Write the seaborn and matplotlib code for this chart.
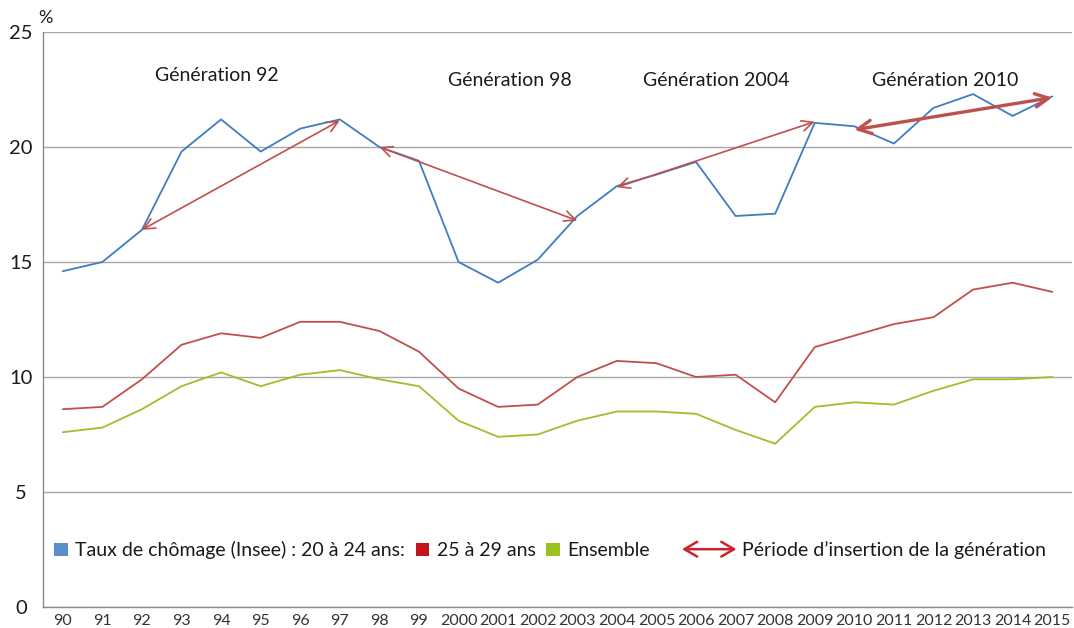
import numpy as np
import pandas as pd
import matplotlib
matplotlib.use("Agg")
import matplotlib.pyplot as plt
import seaborn as sns
from matplotlib.patches import Patch, FancyArrowPatch
from matplotlib.legend_handler import HandlerBase

# ---------------- data ----------------
years = ["90", "91", "92", "93", "94", "95", "96", "97", "98", "99",
         "2000", "2001", "2002", "2003", "2004", "2005", "2006", "2007",
         "2008", "2009", "2010", "2011", "2012", "2013", "2014", "2015"]
chomage_20_24 = [14.6, 15.0, 16.4, 19.8, 21.2, 19.8, 20.8, 21.2, 20.0, 19.4,
                 15.0, 14.1, 15.1, 17.0, 18.3, 18.8, 19.35, 17.0, 17.1, 21.05,
                 20.9, 20.15, 21.7, 22.3, 21.35, 22.2]
chomage_25_29 = [8.6, 8.7, 9.9, 11.4, 11.9, 11.7, 12.4, 12.4, 12.0, 11.1,
                 9.5, 8.7, 8.8, 10.0, 10.7, 10.6, 10.0, 10.1, 8.9, 11.3,
                 11.8, 12.3, 12.6, 13.8, 14.1, 13.7]
ensemble = [7.6, 7.8, 8.6, 9.6, 10.2, 9.6, 10.1, 10.3, 9.9, 9.6,
            8.1, 7.4, 7.5, 8.1, 8.5, 8.5, 8.4, 7.7, 7.1, 8.7,
            8.9, 8.8, 9.4, 9.9, 9.9, 10.0]

series_names = ["Taux de chômage (Insee) : 20 à 24 ans:", "25 à 29 ans", "Ensemble"]
arrow_label = "Période d\u2019insertion de la génération"

generations = ["Génération 92", "Génération 98", "Génération 2004", "Génération 2010"]
gen_start_year = ["92", "98", "2004", "2010"]
gen_end_year = ["97", "2003", "2009", "2015"]
gen_start_value = [16.4, 20.0, 18.25, 20.75]
gen_end_value = [21.15, 16.8, 21.1, 22.15]

y_ticks = [0, 5, 10, 15, 20, 25]

# ---------------- style ----------------
line_colors = ["#3F7DC0", "#C0504D", "#9BC02E"]
legend_colors = ["#5B8DCB", "#C3161C", "#9BC31E"]
arrow_color = "#C0504D"
legend_arrow_color = "#D02030"
text_color = "#1A1A1A"
grid_color = "#A8A8A8"

sns.set_style("white")
plt.rcParams["font.family"] = ["Lato", "DejaVu Sans"]

fig = plt.figure(figsize=(10.74, 6.28), dpi=100)
ax = fig.add_axes([43 / 1074, 1 - 607 / 628, (1072 - 43) / 1074, (607 - 32) / 628])

x_idx = np.arange(len(years))
df = pd.DataFrame({
    "x": np.tile(x_idx, 3),
    "valeur": chomage_20_24 + chomage_25_29 + ensemble,
    "serie": np.repeat(series_names, len(years)),
})
sns.lineplot(data=df, x="x", y="valeur", hue="serie", hue_order=series_names,
             palette=line_colors, linewidth=1.3, legend=False, ax=ax,
             zorder=3)

# axes
ax.set_xlim(-0.5, len(years) - 0.5)
ax.set_ylim(0, 25)
ax.set_xlabel("")
ax.set_ylabel("")
ax.set_yticks(y_ticks)
ax.set_yticklabels([str(v) for v in y_ticks], fontsize=14.5, color=text_color)
for lab in ax.get_yticklabels():
    lab.set_horizontalalignment("center")
ax.tick_params(axis="y", length=0, pad=16)
ax.set_xticks(x_idx)
ax.set_xticklabels(years, fontsize=11.5, color="#333333")
ax.set_xticks(np.arange(-0.5, len(years), 1.0), minor=True)
ax.tick_params(axis="x", which="major", length=0, pad=5)
ax.tick_params(axis="x", which="minor", length=5, width=1, color="#8A8A8A", direction="out")
ax.yaxis.grid(True, color=grid_color, linewidth=1.0)
ax.set_axisbelow(True)
for side in ["top", "right"]:
    ax.spines[side].set_visible(False)
for side in ["left", "bottom"]:
    ax.spines[side].set_color("#8A8A8A")
    ax.spines[side].set_linewidth(1.0)

fig.text(38 / 1074, 1 - 18 / 628, "%", fontsize=13, color=text_color, va="center")

# insertion period arrows
for i, g in enumerate(generations):
    xs = years.index(gen_start_year[i])
    xe = years.index(gen_end_year[i])
    thick = (i == len(generations) - 1)
    arr = FancyArrowPatch((xs, gen_start_value[i]), (xe, gen_end_value[i]),
                          arrowstyle=("<->,head_length=0.8,head_width=0.4" if thick
                                      else "<->,head_length=0.8,head_width=0.38"),
                          mutation_scale=12 if thick else 10,
                          color=arrow_color, lw=2.4 if thick else 1.2,
                          shrinkA=0, shrinkB=0, zorder=4)
    ax.add_patch(arr)

gen_label_x = [3.9, 11.3, 16.5, 22.3]
gen_label_y = [23.1, 22.9, 22.9, 22.9]
for i, g in enumerate(generations):
    ax.text(gen_label_x[i], gen_label_y[i], g, ha="center", va="center",
            fontsize=14, color=text_color)

# legends
handles1 = [Patch(facecolor=c, edgecolor="none") for c in legend_colors]
leg1 = ax.legend(handles1, series_names, loc="center left",
                 bbox_to_anchor=(0.011, 0.099), ncol=3, frameon=False,
                 fontsize=14, handlelength=0.68, handleheight=0.68,
                 handletextpad=0.4, columnspacing=0.55, borderpad=0,
                 borderaxespad=0, labelcolor=text_color)
ax.add_artist(leg1)


class HandlerDoubleArrow(HandlerBase):
    def create_artists(self, legend, orig_handle, xdescent, ydescent,
                       width, height, fontsize, trans):
        y = height / 2 - ydescent
        a = FancyArrowPatch((-xdescent, y), (width - xdescent, y),
                            arrowstyle="<->,head_length=0.65,head_width=0.38",
                            mutation_scale=fontsize,
                            color=legend_arrow_color, lw=1.8,
                            shrinkA=0, shrinkB=0, transform=trans)
        return [a]


arrow_handle = FancyArrowPatch((0, 0), (1, 0))
ax.legend([arrow_handle], [arrow_label], loc="center left",
          bbox_to_anchor=(0.621, 0.099), frameon=False, fontsize=14,
          handlelength=2.8, handletextpad=0.3, borderpad=0, borderaxespad=0,
          handler_map={FancyArrowPatch: HandlerDoubleArrow()},
          labelcolor=text_color)

fig.savefig("out.png", dpi=100)
